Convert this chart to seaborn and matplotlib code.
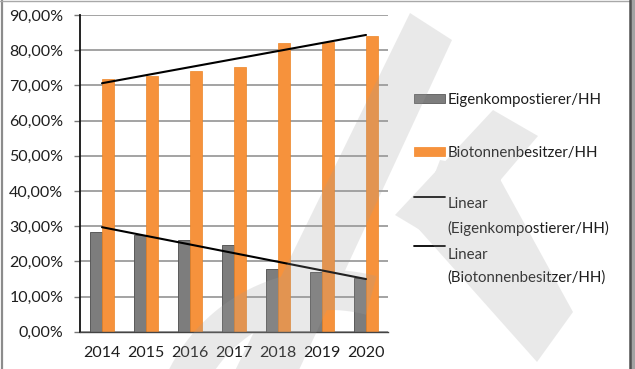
import numpy as np
import pandas as pd
import matplotlib
matplotlib.use("Agg")
import matplotlib.pyplot as plt
from matplotlib.path import Path
from matplotlib.patches import PathPatch, Rectangle, Patch
from matplotlib.lines import Line2D
from matplotlib.legend_handler import HandlerLine2D
from matplotlib.transforms import Affine2D
from matplotlib.ticker import FuncFormatter
import seaborn as sns

# Anteil der Haushalte (in %) je Jahr
jahre = ["2014", "2015", "2016", "2017", "2018", "2019", "2020"]
eigenkompostierer = [28.3, 27.5, 26.1, 24.5, 17.8, 16.9, 15.2]
biotonnenbesitzer = [71.7, 72.8, 74.1, 75.3, 82.0, 82.4, 84.0]
y_ticks = [0, 10, 20, 30, 40, 50, 60, 70, 80, 90]
serien = ["Eigenkompostierer/HH", "Biotonnenbesitzer/HH"]
trend_labels = ["Linear\n(Eigenkompostierer/HH)", "Linear\n(Biotonnenbesitzer/HH)"]

GRAU = "#7d7d7d"
ORANGE = "#f6923c"
TEXT = "#1e1e1e"
W, H = 635, 369

df = pd.DataFrame({
    "Jahr": jahre * 2,
    "Anteil": eigenkompostierer + biotonnenbesitzer,
    "Gruppe": [serien[0]] * len(jahre) + [serien[1]] * len(jahre),
})

sns.set_theme(style="white")
plt.rcParams["font.family"] = ["Lato", "DejaVu Sans"]
plt.rcParams["text.color"] = TEXT

fig = plt.figure(figsize=(W / 100, H / 100), dpi=100)
fig.patch.set_facecolor("white")
ax = fig.add_axes([80 / W, 1 - 331.7 / H, 308 / W, (331.7 - 15) / H])
ax.set_facecolor("white")

sns.barplot(data=df, x="Jahr", y="Anteil", hue="Gruppe",
            palette=[GRAU, ORANGE], width=0.55, saturation=1,
            linewidth=0, ax=ax, legend=False)
for bar in ax.containers[0]:
    bar.set_edgecolor("#5a5a5a")
    bar.set_linewidth(0.7)
for bar in ax.containers[1]:
    bar.set_edgecolor("#ec8526")
    bar.set_linewidth(0.5)

# lineare Trendlinien
pos = np.arange(len(jahre))
for werte in (eigenkompostierer, biotonnenbesitzer):
    sns.regplot(x=pos, y=werte, scatter=False, ci=None, truncate=True,
                color="black", line_kws={"lw": 1.5, "zorder": 5}, ax=ax)

ax.set_xlim(-0.5, len(jahre) - 0.5)
ax.set_ylim(0, 90)
ax.set_xlabel("")
ax.set_ylabel("")

ax.set_yticks(y_ticks)
ax.yaxis.set_major_formatter(FuncFormatter(lambda v, _: f"{v:.2f}%".replace(".", ",")))
ax.yaxis.grid(True, color="#8a8a8a", lw=1.1)
ax.set_axisbelow(True)

for side in ("top", "right"):
    ax.spines[side].set_visible(False)
ax.spines["left"].set_color("#111111")
ax.spines["left"].set_linewidth(1.3)
ax.spines["bottom"].set_color("#444444")
ax.spines["bottom"].set_linewidth(1.0)

ax.set_xticks(pos)
ax.set_xticklabels(jahre)
ax.set_xticks(np.arange(-0.5, len(jahre), 1), minor=True)
ax.tick_params(axis="x", which="major", length=0, pad=10, labelsize=11.5, labelcolor=TEXT)
ax.tick_params(axis="x", which="minor", length=4, width=1, color="#444444", direction="out")
ax.tick_params(axis="y", which="major", length=4, width=1, color="#777777",
               direction="out", left=True, pad=8, labelsize=11.5, labelcolor=TEXT)


class ObereZeileHandler(HandlerLine2D):
    """Legendenlinie auf Höhe der ersten Textzeile."""

    def __init__(self, shift, **kw):
        super().__init__(**kw)
        self.shift = shift

    def create_artists(self, legend, orig_handle, xdescent, ydescent,
                       width, height, fontsize, trans):
        artists = super().create_artists(legend, orig_handle, xdescent, ydescent,
                                         width, height, fontsize, trans)
        for a in artists:
            a.set_ydata(np.asarray(a.get_ydata()) + self.shift)
        return artists


fs_leg = 10.8
bar_handles = [Patch(facecolor=GRAU, edgecolor="#5a5a5a", lw=0.6),
               Patch(facecolor=ORANGE, edgecolor=ORANGE, lw=0.6)]
leg1 = ax.legend(bar_handles, serien, loc="center left",
                 bbox_to_anchor=(414 / W, 1 - 126.5 / H), bbox_transform=fig.transFigure,
                 frameon=False, fontsize=fs_leg, handlelength=2.05, handleheight=0.5,
                 handletextpad=0.2, labelspacing=2.6, borderpad=0, borderaxespad=0)
ax.add_artist(leg1)

line_handles = [Line2D([], [], color="black", lw=1.3) for _ in trend_labels]
leg2 = ax.legend(line_handles, trend_labels, loc="center left",
                 bbox_to_anchor=(414 / W, 1 - 241 / H), bbox_transform=fig.transFigure,
                 frameon=False, fontsize=fs_leg, handlelength=2.05,
                 handletextpad=0.2, labelspacing=0.8, borderpad=0, borderaxespad=0,
                 handler_map={Line2D: ObereZeileHandler(shift=14.5)})
for t in leg2.get_texts():
    t.set_linespacing(1.78)

# grauer Schriftzug im Hintergrund
px = Affine2D().scale(1 / W, -1 / H).translate(0, 1) + fig.transFigure


def polygon(pts):
    verts = list(pts) + [pts[0]]
    codes = [Path.MOVETO] + [Path.LINETO] * (len(pts) - 1) + [Path.CLOSEPOLY]
    return verts, codes


def bogen(cx, cy, r_out, r_in, t0, t1, n=40):
    t = np.radians(np.linspace(t0, t1, n))
    aussen = [(cx + r_out * np.cos(a), cy + r_out * np.sin(a)) for a in t]
    innen = [(cx + r_in * np.cos(a), cy + r_in * np.sin(a)) for a in t[::-1]]
    return polygon(aussen + innen)


teile = [
    polygon([(410, 13), (452, 40), (292, 385), (228, 385)]),
    polygon([(493, 110), (538, 136), (445, 245), (395, 215)]),
    polygon([(440, 160), (495, 170), (573, 312), (537, 362), (415, 225)]),
    bogen(330, 450, 180, 140, 198, 285),
]
verts, codes = [], []
for v, c in teile:
    verts += v
    codes += c
fig.add_artist(PathPatch(Path(verts, codes), facecolor="#9e9e9e", edgecolor="none",
                         alpha=0.22, transform=px, zorder=20))

# Rahmen des Ausschnitts
fig.add_artist(Line2D([2, 2], [0, H], color="#8c8c8c", lw=1.6, transform=px, zorder=21))
fig.add_artist(Line2D([0, W], [0.5, 0.5], color="#a8a8a8", lw=1.0, transform=px, zorder=21))
fig.add_artist(Rectangle((631, 0), 4, H, facecolor="#a3a3a3", edgecolor="none",
                         transform=px, zorder=21))
fig.add_artist(Line2D([630, 630], [0, H], color="#505050", lw=1.8, transform=px, zorder=22))

fig.savefig("out.png", dpi=100, facecolor="white")
